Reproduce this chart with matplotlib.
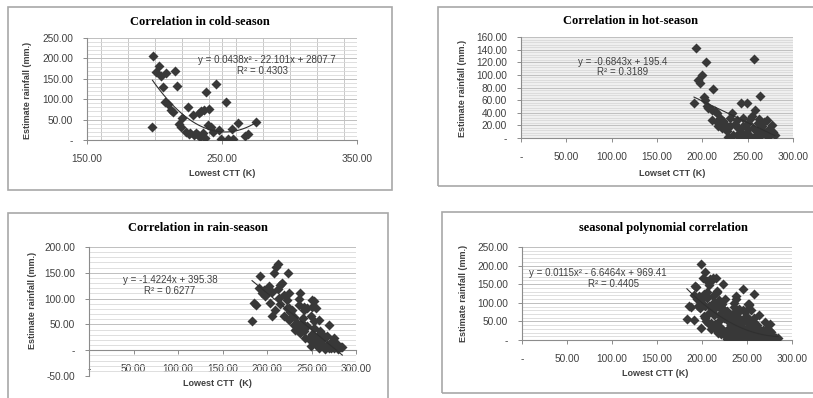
import numpy as np
import matplotlib
matplotlib.use('Agg')
import matplotlib.pyplot as plt
from matplotlib.ticker import MultipleLocator, FuncFormatter
from matplotlib.patches import Rectangle

# ---- data ----
cold_ctt = [199, 203, 201, 205, 208.6, 215.5, 206, 216.5, 208, 210, 212.3, 213.5,
            198.5, 224.5, 220, 218.5, 219.5, 223.3, 226.5, 229.5, 230.7, 228.3,
            232.7, 234.5, 236.8, 240.4, 238.2, 245.5, 239.3, 241.5, 243, 234,
            237.7, 247.5, 252.7, 249.2, 254.2, 257.8, 257.7, 261.5, 266.8, 269.6,
            275.1, 225.5, 232.5, 236]
cold_rain = [205, 182, 167, 158, 164, 168, 130, 133, 92, 88, 73, 68,
             33, 81, 55, 38, 33, 20, 16, 12, 18, 61,
             66, 71, 74, 75, 118, 138, 37, 33, 19, 8,
             4, 25, 93, 3, 3, 3, 26, 41, 10, 15,
             44, 14, 12, 18]

hot_ctt = [193, 204, 257.5, 199.3, 195.6, 197.4, 211.4, 201.8, 203, 190.8,
           263.6, 242.3, 248.9, 258, 204.8, 210.3, 215.8, 232.4, 206.6, 214,
           210.3, 215.8, 223.1, 230.5, 237.9, 245.2, 252.6, 271, 221.4, 226.9,
           234.2, 241.5, 248.9, 256.2, 259.9, 265.5, 269.1, 274.6, 278.3, 245.2,
           250.7, 261.7, 239.7, 230.5, 236, 217.6, 276.5, 258, 263.6, 271,
           252.6, 245.2, 225, 243, 255, 262, 266, 280, 228, 250,
           268, 273, 220, 238]
hot_rain = [143, 121, 125, 100, 92, 87, 78, 65, 60, 55,
            67, 55, 56, 45, 50, 45, 39, 39, 47, 42,
            28.8, 26, 27, 31.5, 28.8, 31.5, 30.4, 28.8, 15.7, 10.4,
            5.2, 2.5, 7.9, 15.7, 10.4, 18.3, 7.9, 5.2, 9.4, 18.3,
            23.6, 23.6, 15.7, 18.3, 22, 18.3, 21, 2.5, 2.5, 2.5,
            2.5, 0.5, 22, 10, 35, 30, 12, 5, 2, 14,
            25, 14, 32, 5]

rain_ctt = [212, 210.6, 192.6, 207.5, 223.3, 217, 215, 190.7, 196.3, 202,
            194.5, 200, 205.7, 185, 188, 203.8, 209.5, 205.7, 183.2, 213.2,
            218.8, 222.6, 224.5, 226.4, 237.6, 235.7, 241.3, 245, 252.6, 254.5,
            224.5, 233.9, 237.6, 232, 241.3, 245, 252.6, 258.2, 269.5, 248.9,
            254.5, 260.1, 262, 267.7, 273.3, 277, 282.7, 248.9, 256.4, 263.9,
            269.5, 275.1, 271.4, 258.2, 222.6, 228.3, 241.3, 250.8, 250.8, 230,
            239.5, 248.9, 237.6, 252.6, 258.2, 263.9, 275.1, 248.9, 254.5, 262,
            267.7, 278.9, 284.6, 271.4, 243.2, 225, 218.8, 235.7, 260, 265,
            280, 256, 250, 240, 230, 215, 198, 212]
rain_rain = [168, 161, 144, 149, 150, 130, 126, 120, 117, 124,
             110, 110, 113, 92, 88, 91, 78, 67, 56, 101,
             107, 97.5, 81.5, 75, 110, 88, 84.6, 81.5, 96, 81.5,
             59, 52.7, 43, 39.8, 36.5, 47.5, 55.8, 59, 49.4, 27,
             23.8, 36.5, 20.6, 27, 17.3, 14.2, 6.5, 7.7, 11, 7.7,
             4.6, 4.6, 14.2, 4.6, 81.5, 78, 78, 97.5, 84.6, 49.4,
             52.7, 65.4, 33.5, 43, 30.2, 27, 23.8, 17.3, 14.2, 11,
             11, 11, 5.8, 4.6, 23.8, 110, 67, 99, 15, 2,
             2, 20, 32, 62, 65, 90, 105, 118]

# the seasonal chart pools the three seasons
all_ctt = cold_ctt + hot_ctt + rain_ctt
all_rain = cold_rain + hot_rain + rain_rain

# trend line coefficients shown on the charts
cold_fit = [0.0438, -22.101, 2807.7]
hot_fit = [-0.6843, 195.4]
rain_fit = [-1.4224, 395.38]
all_fit = [0.0115, -6.6464, 969.41]

titles = ['Correlation in cold-season', 'Correlation in hot-season',
          'Correlation in rain-season', 'seasonal polynomial correlation']
xlabels = ['Lowest CTT (K)', 'Lowset CTT (K)', 'Lowest CTT  (K)', 'Lowest CTT (K)']
ylabel = 'Estimate rainfall (mm.)'
equations = [('y = 0.0438x² - 22.101x + 2807.7', 'R² = 0.4303'),
             ('y = -0.6843x + 195.4', 'R² = 0.3189'),
             ('y = -1.4224x + 395.38', 'R² = 0.6277'),
             ('y = 0.0115x² - 6.6464x + 969.41', 'R² = 0.4405')]

W, H = 813, 398
fig = plt.figure(figsize=(W / 100, H / 100), dpi=100)
fig.patch.set_facecolor('white')

SANS = ['Liberation Sans', 'DejaVu Sans']
SERIF = ['Liberation Serif', 'DejaVu Serif']
TXT = '#404040'


def px(x, y):
    return x / W, 1 - y / H


def frame(l, r, t, b):
    fig.patches.append(Rectangle(px(l, b), (r - l) / W, (b - t) / H,
                                 transform=fig.transFigure, fill=False,
                                 ec='#a8a8a8', lw=1.2))


def fmt(v, pos):
    if abs(v) < 1e-9:
        return '-'
    return f'{v:.2f}'


def panel(box, x, y, fit, xlim, ylim, xmaj, ymaj, ymin, xgrid=None,
          bg='white', zero_axis=False):
    l, r, t, b = box
    ax = fig.add_axes([l / W, 1 - b / H, (r - l) / W, (b - t) / H])
    ax.set_facecolor(bg)
    ax.set_xlim(*xlim)
    ax.set_ylim(*ylim)
    ax.set_xticks(np.arange(xlim[0], xlim[1] + 1, xmaj))
    ax.yaxis.set_major_locator(MultipleLocator(ymaj))
    ax.yaxis.set_minor_locator(MultipleLocator(ymin))
    ax.xaxis.set_major_formatter(FuncFormatter(fmt))
    ax.yaxis.set_major_formatter(FuncFormatter(fmt))
    ax.grid(True, which='major', axis='y', color='#bfbfbf', lw=0.7)
    ax.grid(True, which='minor', axis='y', color='#d9d9d9', lw=0.6)
    if xgrid:
        ax.xaxis.set_minor_locator(MultipleLocator(xgrid))
        ax.grid(True, which='both', axis='x', color='#c8c8c8', lw=0.7)
    ax.set_axisbelow(True)
    for s in ['top', 'right']:
        ax.spines[s].set_visible(False)
    for s in ['left', 'bottom']:
        ax.spines[s].set_color('#8c8c8c')
        ax.spines[s].set_linewidth(0.8)
    if zero_axis:
        ax.spines['bottom'].set_position(('data', 0))
    ax.tick_params(which='major', length=3, width=0.7, color='#8c8c8c',
                   labelsize=7.3, labelcolor=TXT, pad=7)
    ax.tick_params(which='minor', length=0)
    for lab in ax.get_xticklabels() + ax.get_yticklabels():
        lab.set_family(SANS)

    ax.scatter(x, y, marker='D', s=26, color='#383838', lw=0, zorder=3)
    xs = np.linspace(min(x), max(x), 120)
    ax.plot(xs, np.polyval(fit, xs), color='#303030', lw=0.8, zorder=4)
    return ax


# panel frames
frame(8, 392, 7, 190)
frame(438, 816, 7, 186)
frame(8, 388, 213, 402)
frame(442, 816, 212, 393)

panel((87, 357, 38, 140), cold_ctt, cold_rain, cold_fit, (150, 350), (0, 250),
      100, 50, 10, xgrid=20)
panel((521, 793, 37, 138), hot_ctt, hot_rain, hot_fit, (0, 300), (0, 160),
      50, 20, 4, bg='#efefef')
panel((89, 356, 247, 376), rain_ctt, rain_rain, rain_fit, (0, 300), (-50, 200),
      50, 50, 10, zero_axis=True)
panel((522, 792, 247, 340), all_ctt, all_rain, all_fit, (0, 300), (0, 250),
      50, 50, 10)

# titles
for (cx, cy), t in zip([(200, 22), (630, 21), (198, 228), (663, 228)], titles):
    fig.text(*px(cx, cy), t, ha='center', va='center', fontsize=9,
             fontweight='bold', family=SERIF)

# axis titles
for (cx, cy), t in zip([(222, 173), (672, 173), (217, 383), (655, 373)], xlabels):
    fig.text(*px(cx, cy), t, ha='center', va='center', fontsize=6.5,
             fontweight='bold', family=SANS, color=TXT)
for cx, cy in [(27, 90), (462, 88), (32, 300), (463, 293)]:
    fig.text(*px(cx, cy), ylabel, ha='center', va='center', rotation=90,
             fontsize=6.5, fontweight='bold', family=SANS, color=TXT)

# trend equations
eq_pos = [((267, 60), (262, 71)), ((623, 62), (623, 72)),
          ((170, 280), (170, 291)), ((598, 273), (613, 284))]
for ((x1, y1), (x2, y2)), (e, r2) in zip(eq_pos, equations):
    fig.text(*px(x1, y1), e, ha='center', va='center', fontsize=7,
             family=SANS, color=TXT)
    fig.text(*px(x2, y2), r2, ha='center', va='center', fontsize=7,
             family=SANS, color=TXT)

fig.savefig('out.png', dpi=100)
